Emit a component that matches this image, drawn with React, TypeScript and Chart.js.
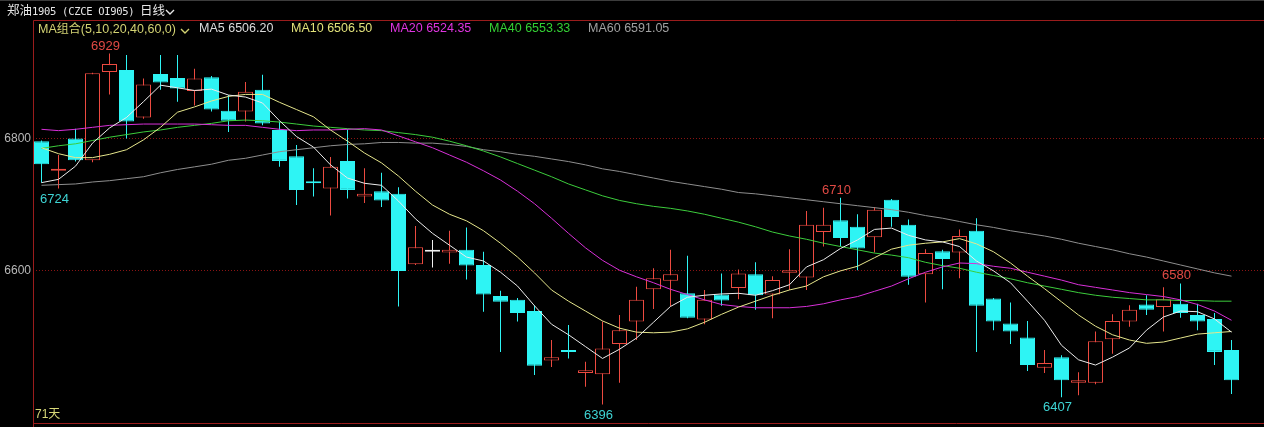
import React, { useEffect, useRef } from 'react';
import { Chart, registerables } from 'chart.js';

Chart.register(...registerables);

// ---- data ----
const OPEN = [6796, 6751, 6800, 6767, 6901, 6904, 6832, 6898, 6892, 6872, 6893, 6842, 6841, 6874, 6813, 6773, 6735, 6724, 6766, 6712, 6720, 6716, 6609, 6628, 6627, 6631, 6608, 6561, 6555, 6538, 6463, 6479, 6444, 6442, 6488, 6522, 6571, 6584, 6565, 6525, 6563, 6573, 6594, 6563, 6596, 6589, 6658, 6676, 6666, 6650, 6707, 6669, 6594, 6629, 6627, 6660, 6557, 6519, 6498, 6452, 6468, 6429, 6429, 6495, 6522, 6548, 6544, 6549, 6532, 6526, 6479];
const HIGH = [6797, 6775, 6815, 6900, 6929, 6927, 6891, 6927, 6927, 6906, 6895, 6866, 6886, 6897, 6826, 6790, 6755, 6772, 6814, 6755, 6748, 6726, 6667, 6646, 6660, 6665, 6628, 6569, 6558, 6547, 6494, 6517, 6461, 6522, 6532, 6575, 6603, 6631, 6622, 6570, 6595, 6601, 6612, 6591, 6632, 6690, 6695, 6710, 6685, 6696, 6708, 6677, 6632, 6631, 6662, 6679, 6558, 6551, 6523, 6479, 6471, 6445, 6507, 6533, 6547, 6562, 6574, 6580, 6549, 6535, 6494];
const LOW = [6733, 6724, 6765, 6764, 6867, 6800, 6830, 6874, 6856, 6850, 6841, 6810, 6826, 6820, 6757, 6699, 6712, 6683, 6709, 6702, 6696, 6545, 6608, 6604, 6610, 6586, 6537, 6476, 6522, 6441, 6453, 6466, 6423, 6396, 6429, 6494, 6541, 6545, 6527, 6518, 6546, 6556, 6540, 6527, 6570, 6570, 6636, 6636, 6600, 6627, 6666, 6578, 6551, 6571, 6588, 6476, 6509, 6488, 6447, 6444, 6407, 6410, 6427, 6473, 6514, 6532, 6507, 6528, 6509, 6456, 6412];
const CLOSE = [6761, 6753, 6767, 6899, 6913, 6826, 6882, 6885, 6876, 6891, 6844, 6827, 6871, 6823, 6766, 6722, 6732, 6757, 6722, 6716, 6706, 6599, 6635, 6628, 6631, 6607, 6563, 6552, 6535, 6455, 6468, 6476, 6448, 6481, 6509, 6555, 6588, 6594, 6528, 6555, 6554, 6595, 6562, 6585, 6600, 6669, 6669, 6649, 6633, 6692, 6681, 6590, 6626, 6617, 6652, 6546, 6522, 6507, 6456, 6459, 6433, 6433, 6492, 6523, 6540, 6540, 6556, 6535, 6522, 6476, 6433];

const MA5 = [6733, 6738, 6758, 6793, 6816, 6832, 6856, 6881, 6877, 6873, 6875, 6866, 6863, 6854, 6827, 6803, 6787, 6760, 6740, 6732, 6729, 6705, 6678, 6656, 6638, 6620, 6614, 6597, 6576, 6546, 6518, 6502, 6484, 6466, 6480, 6497, 6521, 6545, 6559, 6562, 6564, 6565, 6562, 6569, 6578, 6605, 6616, 6633, 6646, 6662, 6664, 6653, 6646, 6643, 6636, 6614, 6599, 6581, 6553, 6524, 6486, 6464, 6456, 6468, 6482, 6509, 6529, 6538, 6537, 6526, 6506];
const MA10 = [6786, 6777, 6771, 6771, 6776, 6783, 6798, 6817, 6840, 6848, 6857, 6864, 6867, 6867, 6855, 6844, 6833, 6813, 6796, 6778, 6763, 6743, 6720, 6699, 6685, 6675, 6660, 6641, 6620, 6596, 6570, 6553, 6538, 6523, 6512, 6506, 6505, 6506, 6511, 6521, 6533, 6544, 6553, 6562, 6570, 6576, 6590, 6599, 6606, 6619, 6632, 6638, 6641, 6643, 6648, 6640, 6628, 6611, 6591, 6572, 6552, 6532, 6515, 6502, 6494, 6489, 6491, 6497, 6503, 6505, 6507];
const MA20 = [6814, 6812, 6814, 6817, 6820, 6821, 6822, 6822, 6822, 6822, 6821, 6820, 6820, 6817, 6814, 6812, 6813, 6813, 6814, 6815, 6813, 6804, 6795, 6786, 6775, 6764, 6751, 6737, 6720, 6701, 6679, 6656, 6634, 6615, 6600, 6590, 6581, 6571, 6563, 6555, 6548, 6545, 6543, 6543, 6543, 6545, 6549, 6555, 6560, 6568, 6576, 6587, 6597, 6605, 6611, 6610, 6606, 6603, 6597, 6591, 6585, 6578, 6574, 6570, 6566, 6563, 6560, 6555, 6548, 6538, 6524];
const MA40 = [6785, 6789, 6792, 6797, 6802, 6806, 6810, 6813, 6817, 6820, 6823, 6827, 6828, 6827, 6825, 6822, 6819, 6817, 6815, 6813, 6812, 6809, 6806, 6802, 6796, 6789, 6781, 6772, 6762, 6752, 6742, 6731, 6722, 6713, 6706, 6701, 6697, 6694, 6690, 6685, 6679, 6673, 6666, 6658, 6652, 6647, 6641, 6636, 6631, 6626, 6623, 6619, 6612, 6607, 6603, 6597, 6592, 6587, 6581, 6576, 6571, 6566, 6562, 6559, 6557, 6555, 6555, 6554, 6554, 6553, 6553];
const MA60 = [6729, 6730, 6731, 6734, 6736, 6739, 6742, 6748, 6753, 6757, 6761, 6767, 6770, 6775, 6780, 6783, 6786, 6789, 6791, 6792, 6794, 6794, 6793, 6793, 6791, 6788, 6783, 6780, 6776, 6773, 6769, 6765, 6760, 6754, 6750, 6745, 6740, 6735, 6731, 6727, 6723, 6718, 6716, 6713, 6710, 6707, 6704, 6701, 6698, 6695, 6692, 6688, 6683, 6679, 6674, 6669, 6665, 6660, 6656, 6652, 6647, 6641, 6636, 6631, 6625, 6620, 6614, 6608, 6602, 6596, 6591];

const Y_TICKS = [6600, 6800];
const HIGH_MARKS = [4, 47, 67];
const LOW_MARKS = [1, 33, 60];

const MA_LEGEND = [
  { text: 'MA5 6506.20', color: '#dcdcdc', left: 199 },
  { text: 'MA10 6506.50', color: '#e2e27a', left: 291 },
  { text: 'MA20 6524.35', color: '#e034e0', left: 390 },
  { text: 'MA40 6553.33', color: '#34d034', left: 489 },
  { text: 'MA60 6591.05', color: '#a0a0a0', left: 588 },
];

const RED = 'rgb(236,74,64)';
const CYAN = '#2ef4f4';
const WHITE = '#f0f0f0';
const FONT = '"Liberation Sans", Arial, "Noto Sans CJK SC", sans-serif';

const framePlugin = {
  id: 'frame',
  beforeDraw(chart: any) {
    const { ctx } = chart;
    ctx.save();
    ctx.fillStyle = '#000';
    ctx.fillRect(0, 0, chart.width, chart.height);
    ctx.restore();
  },
  afterDraw(chart: any) {
    const { ctx, chartArea } = chart;
    const l = Math.round(chartArea.left) + 0.5;
    const t = Math.round(chartArea.top) + 0.5;
    const b = Math.round(chartArea.bottom) + 0.5;
    ctx.save();
    ctx.lineWidth = 1;
    ctx.strokeStyle = '#3c3c3c';
    ctx.beginPath();
    ctx.moveTo(0, 0.5);
    ctx.lineTo(chart.width, 0.5);
    ctx.stroke();
    ctx.strokeStyle = '#9a1c1c';
    ctx.beginPath();
    ctx.moveTo(l, t);
    ctx.lineTo(chart.width, t);
    ctx.moveTo(l, t);
    ctx.lineTo(l, chart.height);
    ctx.moveTo(l, b);
    ctx.lineTo(chart.width, b);
    ctx.stroke();
    ctx.restore();
  },
};

const marksPlugin = {
  id: 'marks',
  afterDatasetsDraw(chart: any) {
    const { ctx } = chart;
    const x = chart.scales.x;
    const y = chart.scales.y;
    ctx.save();
    ctx.font = '13px ' + FONT;
    ctx.textAlign = 'center';
    ctx.textBaseline = 'alphabetic';
    HIGH_MARKS.forEach((i) => {
      ctx.fillStyle = '#e04a44';
      ctx.fillText(String(HIGH[i]), x.getPixelForValue(i) - 4, y.getPixelForValue(HIGH[i]) - 4);
    });
    LOW_MARKS.forEach((i) => {
      ctx.fillStyle = '#3ed4d4';
      ctx.fillText(String(LOW[i]), x.getPixelForValue(i) - 4, y.getPixelForValue(LOW[i]) + 14);
    });
    ctx.restore();
  },
};

function Chevron({ color, left, top }: { color: string; left: number; top: number }) {
  return (
    <svg width={10} height={6} style={{ position: 'absolute', left, top }}>
      <polyline points="1,1 5,5 9,1" fill="none" stroke={color} strokeWidth={1.4} />
    </svg>
  );
}

export default function App() {
  const ref = useRef<HTMLCanvasElement>(null);

  useEffect(() => {
    document.body.style.margin = '0';
    document.body.style.background = '#000';
    const canvas = ref.current;
    if (!canvas) return;
    const idx = CLOSE.map((_, i) => i);
    const colorOf = (i: number) => (CLOSE[i] > OPEN[i] ? RED : CLOSE[i] < OPEN[i] ? CYAN : WHITE);
    const colors = idx.map(colorOf);
    const fills = idx.map((i) => (CLOSE[i] > OPEN[i] ? '#000' : colorOf(i)));
    const line = (data: number[], color: string, order: number) => ({
      type: 'line' as const,
      data: data.map((v, i) => ({ x: i, y: v })),
      borderColor: color,
      borderWidth: 1,
      pointRadius: 0,
      tension: 0,
      fill: false,
      order,
    });

    const chart = new Chart(canvas, {
      type: 'bar',
      data: {
        datasets: [
          {
            type: 'bar',
            label: 'wick',
            data: idx.map((i) => ({ x: i, y: [LOW[i], HIGH[i]] })) as any,
            backgroundColor: colors,
            borderWidth: 0,
            barThickness: 1,
            grouped: false,
            inflateAmount: 0,
            order: 20,
          } as any,
          {
            type: 'bar',
            label: 'body',
            data: idx.map((i) => ({ x: i, y: [OPEN[i], CLOSE[i]] })) as any,
            backgroundColor: fills,
            borderColor: colors,
            borderWidth: 1,
            borderSkipped: false,
            barThickness: 15,
            grouped: false,
            minBarLength: 2,
            inflateAmount: 0,
            order: 10,
          } as any,
          line(MA60, '#8e8e8e', 5) as any,
          line(MA40, '#3ccc3c', 4) as any,
          line(MA20, '#d830d8', 3) as any,
          line(MA10, '#e6e68c', 2) as any,
          line(MA5, '#ececec', 1) as any,
        ],
      },
      options: {
        animation: false,
        responsive: false,
        devicePixelRatio: 1,
        layout: { padding: { top: 20, left: 0, right: 0, bottom: 4 } },
        plugins: { legend: { display: false }, tooltip: { enabled: false } },
        events: [],
        scales: {
          x: {
            type: 'linear',
            display: false,
            offset: false,
            min: -0.5,
            max: -0.5 + 1231 / 17,
          },
          y: {
            type: 'linear',
            position: 'left',
            min: 6368,
            max: 6980,
            afterFit: (s: any) => {
              s.width = 33;
              s.paddingTop = 0;
              s.paddingBottom = 0;
            },
            afterBuildTicks: (s: any) => {
              s.ticks = Y_TICKS.map((v) => ({ value: v }));
            },
            ticks: {
              color: '#b8b8b8',
              font: { size: 12, family: FONT },
              padding: 2,
              callback: (v: any) => String(v),
            },
            grid: { color: '#8a1414', drawTicks: false, lineWidth: 1 },
            border: { display: false, dash: [1, 2] },
          },
        },
      },
      plugins: [framePlugin, marksPlugin],
    } as any);
    return () => chart.destroy();
  }, []);

  return (
    <div style={{ position: 'relative', width: 1264, height: 427, background: '#000', overflow: 'hidden', fontFamily: FONT }}>
      <canvas ref={ref} width={1264} height={427} style={{ position: 'absolute', left: 0, top: 0 }} />
      <div style={{ position: 'absolute', left: 7, top: 2, height: 16, lineHeight: '16px', whiteSpace: 'pre', color: '#e6e6e6' }}>
        <span style={{ fontSize: 12.5, fontFamily: '"Noto Sans CJK SC", sans-serif' }}>郑油</span>
        <span style={{ fontSize: 10.5, fontFamily: '"DejaVu Sans Mono", monospace', letterSpacing: -0.3 }}>1905 (CZCE OI905)</span>
      </div>
      <div style={{ position: 'absolute', left: 140, top: 2, height: 16, lineHeight: '16px', fontSize: 12.5, color: '#e6e6e6', fontFamily: '"Noto Sans CJK SC", sans-serif' }}>日线</div>
      <Chevron color="#e6e6e6" left={165} top={9} />
      <div style={{ position: 'absolute', left: 38, top: 21, lineHeight: '14px', fontSize: 12.5, color: '#d2d272', whiteSpace: 'pre' }}>
        MA<span style={{ fontFamily: '"Noto Sans CJK SC", sans-serif', fontSize: 12 }}>组合</span>(5,10,20,40,60,0)
      </div>
      <Chevron color="#d2d272" left={180} top={28} />
      {MA_LEGEND.map((m) => (
        <div key={m.text} style={{ position: 'absolute', left: m.left, top: 21, lineHeight: '14px', fontSize: 12.5, color: m.color, whiteSpace: 'pre' }}>
          {m.text}
        </div>
      ))}
      <div style={{ position: 'absolute', left: 35, top: 406, lineHeight: '14px', fontSize: 12, color: '#d8d878', whiteSpace: 'pre' }}>
        71<span style={{ fontFamily: '"Noto Sans CJK SC", sans-serif' }}>天</span>
      </div>
    </div>
  );
}
